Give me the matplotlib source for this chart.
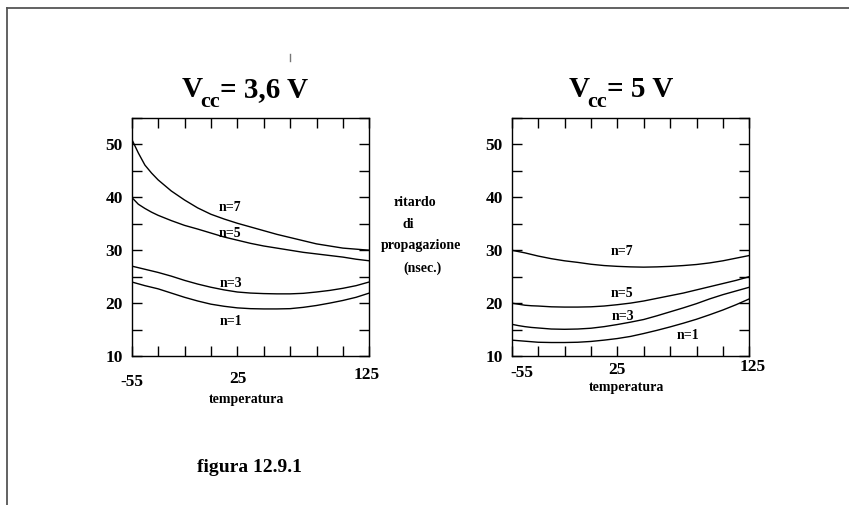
import matplotlib
matplotlib.use("Agg")
import matplotlib.pyplot as plt
from matplotlib.lines import Line2D
from matplotlib.transforms import ScaledTranslation

plt.rcParams['font.family'] = ['Liberation Serif', 'DejaVu Serif']
plt.rcParams['font.weight'] = 'bold'

# temperature grid (°C)
temp = [-55, -50, -45, -40, -35, -25, -15, -5, 5, 15, 25, 35, 45, 55, 65, 75, 85, 95, 105, 115, 125]

# Vcc = 3,6 V
v36_n7 = [51.0, 48.4, 46.1, 44.6, 43.3, 41.2, 39.5, 38.0, 36.8, 35.9, 35.1, 34.4, 33.7, 33.0, 32.4, 31.8, 31.2, 30.8, 30.4, 30.2, 30.0]
v36_n5 = [40.0, 38.7, 37.9, 37.2, 36.6, 35.6, 34.7, 34.0, 33.25, 32.5, 31.9, 31.3, 30.8, 30.4, 30.0, 29.6, 29.3, 29.0, 28.7, 28.3, 28.0]
v36_n3 = [27.0, 26.7, 26.4, 26.1, 25.8, 25.1, 24.3, 23.6, 23.0, 22.5, 22.1, 21.9, 21.8, 21.75, 21.75, 21.85, 22.1, 22.4, 22.8, 23.3, 24.0]
v36_n1 = [24.0, 23.65, 23.3, 23.0, 22.7, 21.9, 21.1, 20.4, 19.8, 19.4, 19.1, 18.95, 18.9, 18.9, 18.95, 19.2, 19.55, 20.0, 20.5, 21.1, 21.9]

# Vcc = 5 V
v5_n7 = [30.0, 29.75, 29.5, 29.2, 28.9, 28.4, 28.0, 27.7, 27.35, 27.1, 26.95, 26.85, 26.8, 26.85, 26.95, 27.1, 27.3, 27.6, 28.0, 28.5, 29.0]
v5_n5 = [20.0, 19.8, 19.6, 19.5, 19.45, 19.3, 19.25, 19.25, 19.3, 19.45, 19.7, 20.0, 20.4, 20.9, 21.4, 21.9, 22.5, 23.1, 23.7, 24.3, 25.0]
v5_n3 = [16.0, 15.75, 15.55, 15.4, 15.3, 15.1, 15.05, 15.1, 15.25, 15.55, 15.95, 16.4, 16.9, 17.6, 18.35, 19.1, 19.9, 20.8, 21.6, 22.3, 23.0]
v5_n1 = [13.0, 12.9, 12.8, 12.7, 12.6, 12.55, 12.55, 12.6, 12.75, 13.0, 13.3, 13.7, 14.25, 14.85, 15.5, 16.2, 16.95, 17.8, 18.7, 19.7, 20.8]

curve_names = ["n=7", "n=5", "n=3", "n=1"]
# label anchor (temperature, delay) for each curve name
labels_36 = [(19.5, 38.0), (19.5, 33.1), (20.5, 23.7), (20.5, 16.6)]
labels_5 = [(28.3, 29.8), (28.3, 21.8), (29.6, 17.4), (78.3, 13.8)]

# title pieces: main symbol, subscript, remainder
titles = [("V", "cc", "= 3,6 V"), ("V", "cc", "= 5 V")]
xtick_major = [-55, 25, 125]
xtick_minor = [-35, -15, 5, 45, 65, 85, 105]
ytick_major = [10, 20, 30, 40, 50]
ytick_minor = [15, 25, 35, 45, 55]

W, H = 849, 505
fig = plt.figure(figsize=(W / 100, H / 100), dpi=100)
renderer = fig.canvas.get_renderer()


def fx(px):
    return px / W


def fy(py):
    return 1 - py / H


# outer frame (top and left edges visible)
frame_kw = dict(color="#555555", lw=1.3)
fig.add_artist(Line2D([fx(7), 1.0], [fy(8), fy(8)], **frame_kw))
fig.add_artist(Line2D([fx(7), fx(7)], [fy(8), 0.0], **frame_kw))
fig.add_artist(Line2D([fx(290), fx(290)], [fy(54), fy(61)], color="#777777", lw=1.0))


def title_text(cx, base_y, parts):
    main, sub, rest = parts
    t1 = fig.text(0, fy(base_y), main, fontsize=21, fontweight="bold", va="baseline")
    t2 = fig.text(0, fy(base_y + 10), sub, fontsize=16, fontweight="bold", va="baseline")
    t3 = fig.text(0, fy(base_y), rest, fontsize=21, fontweight="bold", va="baseline")
    w1 = t1.get_window_extent(renderer).width - 2
    w2 = t2.get_window_extent(renderer).width
    w3 = t3.get_window_extent(renderer).width
    x0 = cx - (w1 + w2 + w3) / 2
    t1.set_x(fx(x0))
    t2.set_x(fx(x0 + w1))
    t3.set_x(fx(x0 + w1 + w2))


def panel(left_px, series, label_pos, title, title_x, xlab_offsets, tlab_y):
    ax = fig.add_axes([fx(left_px), fy(356), 237.6 / W, 238 / H])
    for ys in series:
        ax.plot(temp, ys, color="black", lw=1.0)
    ax.set_xlim(-55, 125)
    ax.set_ylim(10, 55)
    ax.set_xticks(xtick_major)
    ax.set_xticks(xtick_minor, minor=True)
    ax.set_yticks(ytick_major)
    ax.set_yticks(ytick_minor, minor=True)
    ax.set_xticklabels([str(v) for v in xtick_major])
    ax.set_yticklabels([str(v) for v in ytick_major])
    ax.tick_params(which="both", direction="in", length=7, width=1.0,
                   top=True, right=True, color="black")
    ax.tick_params(axis="y", labelsize=12.5, pad=6.5)
    ax.tick_params(axis="x", labelsize=12.5, pad=10)
    for sp in ax.spines.values():
        sp.set_linewidth(1.0)
    for lab, (dx, dy) in zip(ax.get_xticklabels(), xlab_offsets):
        lab.set_fontweight("bold")
        lab.set_transform(lab.get_transform() +
                          ScaledTranslation(dx / 100, -dy / 100, fig.dpi_scale_trans))
    for lab in ax.get_yticklabels():
        lab.set_fontweight("bold")
    for name, (tx, ty) in zip(curve_names, label_pos):
        ax.text(tx, ty, name, fontsize=10, fontweight="bold", ha="center", va="center")
    title_text(title_x, 96.7, title)
    fig.text(fx(left_px + 237.6 / 2 - 4), fy(tlab_y), "temperatura", fontsize=10,
             fontweight="bold", ha="center", va="center")
    return ax


panel(131.7, [v36_n7, v36_n5, v36_n3, v36_n1], labels_36, titles[0], 245,
      [(0, 4), (1, 1), (-2.5, -3)], 399)
panel(511.7, [v5_n7, v5_n5, v5_n3, v5_n1], labels_5, titles[1], 621,
      [(10, -5), (-0.5, -8), (3.7, -11)], 388)

# y-axis description between panels
for txt, (px, py) in zip(["ritardo", "di", "propagazione", "(nsec.)"],
                         [(415, 203), (408, 225), (421, 246), (422, 268)]):
    fig.text(fx(px), fy(py), txt, fontsize=10, fontweight="bold", ha="center", va="center")

fig.text(fx(249), fy(468), "figura 12.9.1", fontsize=14, fontweight="bold",
         ha="center", va="center")

fig.savefig("out.png", dpi=100)
